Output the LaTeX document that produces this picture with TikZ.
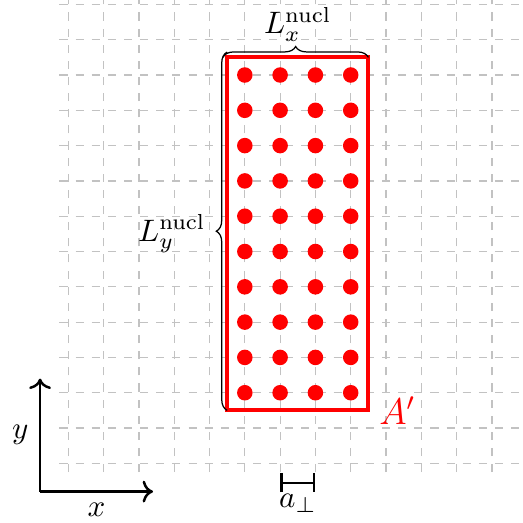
\documentclass[tikz,border=0pt]{standalone}
\usetikzlibrary{decorations.pathreplacing, arrows.meta}

\begin{document}
\begin{tikzpicture}[
			x=0.4cm, y=0.4cm,
			gridline/.style={
				black!24,
				line width=0.4pt,
				dash pattern=on 2.6pt off 2.6pt
			},
			cellbox/.style={red, line width=1.3pt},
			brace/.style={decorate, decoration={brace, amplitude=3.5pt}, line width=0.4pt},
			axis/.style={->, thick},
			scalebar/.style={{Bar[width=6pt]}-{Bar[width=6pt]}, thick}
			]
			
			\useasboundingbox (-1.935,-1.663) rectangle (12.88,13.125);
			\clip (-1.935,-1.663) rectangle (12.88,13.125);
			\draw [gridline, step=0.4cm] (-0.25,-0.25) grid (13.5,13.5);
			
			\coordinate (sw) at (4.5,1.5);
			\coordinate (ne) at (8.5,11.5);
			\draw [cellbox] (sw) rectangle (ne);
			
			\foreach \i in {5,...,8}
				\foreach \j in {2,...,11}
					\fill [red] (\i,\j) circle (0.22);
			
			\coordinate (ly0) at (4.5,1.5);
			\coordinate (ly1) at (4.5,11.65);
			\coordinate (lx0) at (4.38,11.5);
			\coordinate (lx1) at (8.5,11.5);
			\draw [brace] (ly0) -- (ly1);
			\draw [brace] (lx0) -- (lx1);
			
			\node (lxlab) [anchor=south] at (6.5,11.65) {$L_x^{\mathrm{nucl}}$};
			\node (lylab) [anchor=east] at (4.2,6.5) {$L_y^{\mathrm{nucl}}$};
			\node (aprime) [red, right, font=\large] at (ne |- sw) {$A'$};
			
			\coordinate (o) at (-0.8,-0.8);
			\coordinate (xend) at (2.4,-0.8);
			\coordinate (yend) at (-0.8,2.4);
			\draw [axis] (o) -- (xend) node [midway, below] (xlab) {$x$};
			\draw [axis] (o) -- (yend) node [midway, left] (ylab) {$y$};
			
			\coordinate (a0) at (6,-0.55);
			\coordinate (a1) at (7,-0.55);
			\draw [scalebar] (a0) -- (a1) node [midway, below] (alab) {$a_\perp$};
			
		\end{tikzpicture}
\end{document}
